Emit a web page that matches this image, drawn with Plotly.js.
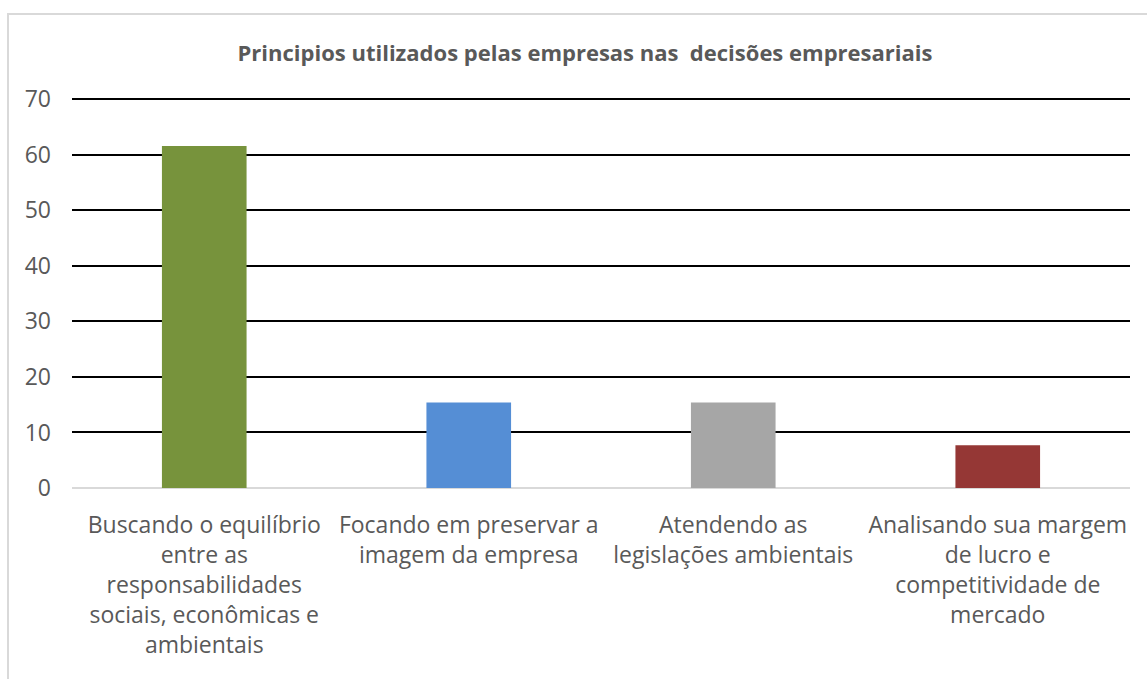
<!DOCTYPE html>
<html>
<head>
<meta charset="utf-8">
<script src="https://cdn.plot.ly/plotly-3.0.1.min.js"></script>
<style>html,body{margin:0;padding:0;background:#fff;}#chart{width:1147px;height:679px;}</style>
</head>
<body>
<div id="chart"></div>
<script>
const categories = ["Buscando o equilíbrio entre as responsabilidades sociais, econômicas e ambientais", "Focando em preservar a imagem da empresa", "Atendendo as legislações ambientais", "Analisando sua margem de lucro e competitividade de mercado"];
const tickLabels = ["Buscando o equilíbrio<br>entre as<br>responsabilidades<br>sociais, econômicas e<br>ambientais", "Focando em preservar a<br>imagem da empresa", "Atendendo as<br>legislações ambientais", "Analisando sua margem<br>de lucro e<br>competitividade de<br>mercado"];
const values = [61.54, 15.38, 15.38, 7.69];
const barColors = ["#77933C", "#558ED5", "#A6A6A6", "#953735"];
const yTicks = [0, 10, 20, 30, 40, 50, 60, 70];

const FONT = "Open Sans, Noto Sans, sans-serif";
const trace = {
  type: "bar",
  x: categories,
  y: values,
  marker: {color: barColors},
  hoverinfo: "none"
};
const layout = {
  width: 1147, height: 679,
  margin: {l: 72, r: 17, t: 98, b: 191},
  paper_bgcolor: "#fff", plot_bgcolor: "#fff",
  showlegend: false,
  bargap: 0.68,
  font: {family: FONT, color: "#595959", size: 23},
  title: {
    text: "<b>Principios utilizados pelas empresas nas  decisões empresariais</b>",
    font: {family: FONT, size: 22, color: "#595959"},
    x: 0.51, xanchor: "center", xref: "container",
    y: 1 - 53/679, yanchor: "middle", yref: "container"
  },
  xaxis: {
    type: "category",
    tickmode: "array", tickvals: categories, ticktext: tickLabels,
    tickangle: 0,
    showgrid: false, showline: false, ticks: "",
    zeroline: false,
    tickfont: {family: FONT, size: 23, color: "#595959"},
    ticklabelstandoff: 21
  },
  yaxis: {
    range: [0, 70.2],
    tickmode: "array", tickvals: yTicks,
    showgrid: true, gridcolor: "#000", gridwidth: 2,
    zeroline: true, zerolinecolor: "#d9d9d9", zerolinewidth: 2,
    showline: false, ticks: "",
    tickfont: {family: FONT, size: 23, color: "#595959"},
    ticklabelstandoff: 20
  },
  shapes: [{
    type: "rect", xref: "paper", yref: "paper",
    x0: (8 - 72) / 1058, x1: 1.2, y0: -0.6, y1: 1 + (98 - 14) / 390,
    line: {color: "#d9d9d9", width: 2}, fillcolor: "rgba(0,0,0,0)", layer: "below"
  }]
};
Plotly.newPlot("chart", [trace], layout, {displayModeBar: false, staticPlot: true});
</script>
</body>
</html>
